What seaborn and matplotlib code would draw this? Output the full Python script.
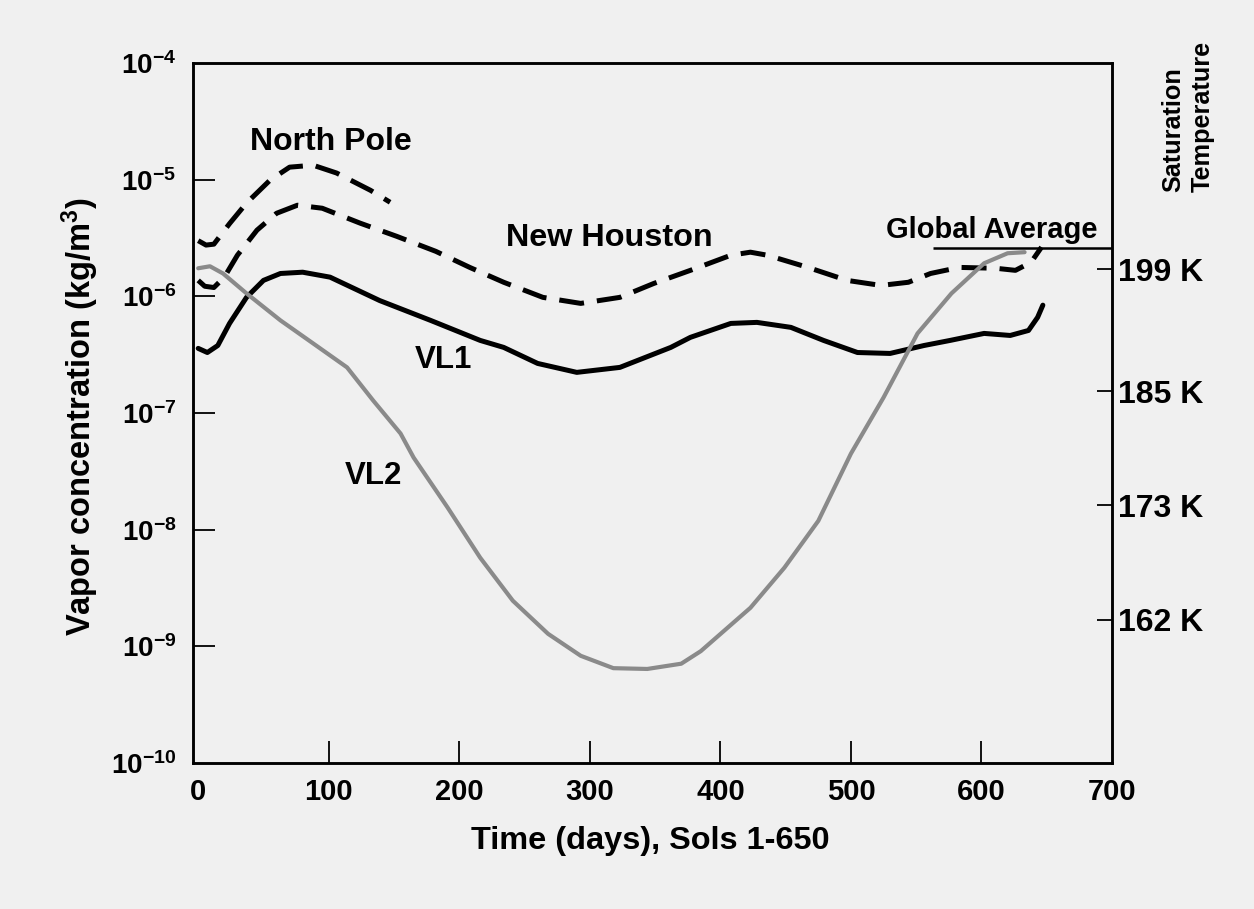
import seaborn as sns
import matplotlib.pyplot as plt
from matplotlib.ticker import NullLocator, FixedLocator, NullFormatter

# ---------------- DATA ----------------
# time in days, vapor concentration in kg/m^3
np_days = [0, 6, 12, 24, 37, 55, 70, 88, 106, 132, 147]
np_conc = [3.0e-6, 2.75e-6, 2.8e-6, 4.2e-6, 6.3e-6, 9.9e-6, 1.28e-5, 1.33e-5, 1.14e-5, 8.1e-6, 6.4e-6]

nh_days = [0, 5, 12, 20, 30, 45, 60, 76, 95, 124, 152, 182, 208, 234, 264, 293, 323,
           349, 377, 408, 423, 436, 467, 497, 523, 544, 561, 583, 611, 626, 638, 646]
nh_conc = [1.37e-6, 1.22e-6, 1.19e-6, 1.46e-6, 2.25e-6, 3.69e-6, 5.15e-6, 6.04e-6, 5.69e-6,
           4.24e-6, 3.27e-6, 2.43e-6, 1.77e-6, 1.32e-6, 9.8e-7, 8.7e-7, 9.8e-7, 1.29e-6,
           1.67e-6, 2.25e-6, 2.39e-6, 2.25e-6, 1.77e-6, 1.37e-6, 1.24e-6, 1.32e-6, 1.57e-6,
           1.77e-6, 1.74e-6, 1.67e-6, 1.96e-6, 2.64e-6]

vl1_days = [0, 7, 15, 24, 37, 50, 63, 80, 101, 139, 178, 216, 234, 260, 290, 323, 362,
            377, 408, 428, 454, 479, 505, 530, 556, 576, 602, 622, 636, 643, 647]
vl1_conc = [3.58e-7, 3.3e-7, 3.79e-7, 5.86e-7, 9.8e-7, 1.37e-6, 1.57e-6, 1.61e-6, 1.46e-6,
            9.2e-7, 6.22e-7, 4.19e-7, 3.65e-7, 2.66e-7, 2.23e-7, 2.46e-7, 3.65e-7, 4.45e-7,
            5.86e-7, 5.98e-7, 5.42e-7, 4.19e-7, 3.3e-7, 3.24e-7, 3.79e-7, 4.19e-7, 4.81e-7,
            4.62e-7, 5.1e-7, 6.61e-7, 8.4e-7]

vl2_days = [0, 9, 19, 37, 63, 88, 114, 134, 155, 165, 191, 216, 241, 268, 293, 318, 344,
            370, 385, 423, 449, 475, 500, 525, 551, 577, 602, 620, 633]
vl2_conc = [1.74e-6, 1.81e-6, 1.57e-6, 1.06e-6, 6.22e-7, 3.95e-7, 2.46e-7, 1.28e-7, 6.67e-8,
            4.15e-8, 1.55e-8, 5.75e-9, 2.46e-9, 1.28e-9, 8.3e-10, 6.5e-10, 6.4e-10, 7.1e-10,
            9.1e-10, 2.14e-9, 4.72e-9, 1.19e-8, 4.49e-8, 1.36e-7, 4.81e-7, 1.06e-6, 1.92e-6,
            2.34e-6, 2.39e-6]

global_avg_days = [563, 700]
global_avg_conc = 2.58e-6

y_ticks = [1e-4, 1e-5, 1e-6, 1e-7, 1e-8, 1e-9, 1e-10]
y_ticklabels = [r"$10^{-4}$", r"$10^{-5}$", r"$10^{-6}$", r"$10^{-7}$",
                r"$10^{-8}$", r"$10^{-9}$", r"$10^{-10}$"]
x_ticks = [0, 100, 200, 300, 400, 500, 600, 700]
temp_ticks = [1.71e-6, 1.53e-7, 1.62e-8, 1.69e-9]
temp_labels = ["199 K", "185 K", "173 K", "162 K"]

# ---------------- STYLE ----------------
sns.set_theme(style="ticks")
paper = "#f0f0f0"
plt.rcParams["font.family"] = ["Liberation Sans", "DejaVu Sans"]
plt.rcParams["font.weight"] = "bold"
plt.rcParams["text.color"] = "black"
plt.rcParams["axes.labelcolor"] = "black"
plt.rcParams["mathtext.fontset"] = "custom"
plt.rcParams["mathtext.rm"] = "Liberation Sans:bold"
plt.rcParams["mathtext.bf"] = "Liberation Sans:bold"
plt.rcParams["mathtext.default"] = "rm"

fig = plt.figure(figsize=(12.54, 9.09), dpi=100, facecolor=paper)
ax = fig.add_axes([0.1539, 0.1606, 0.7329, 0.7701], facecolor=paper)

# ---------------- CURVES ----------------
sns.lineplot(x=np_days, y=np_conc, ax=ax, color="black", lw=3.6,
             linestyle=(0, (5, 2.6)), estimator=None)
sns.lineplot(x=nh_days, y=nh_conc, ax=ax, color="black", lw=3.6,
             linestyle=(0, (5, 2.6)), estimator=None)
sns.lineplot(x=vl1_days, y=vl1_conc, ax=ax, color="black", lw=3.6, estimator=None)
sns.lineplot(x=vl2_days, y=vl2_conc, ax=ax, color="#8a8a8a", lw=3.0, estimator=None)
ax.hlines(global_avg_conc, global_avg_days[0], global_avg_days[1], color="black", lw=1.8)

ax.set_yscale("log")
ax.set_xlim(-4, 700)
ax.set_ylim(1e-10, 1e-4)

# labels on major ticks, visible tick marks only on inner positions (minor)
ax.xaxis.remove_overlapping_locs = False
ax.yaxis.remove_overlapping_locs = False
ax.set_xticks(x_ticks)
ax.xaxis.set_minor_locator(FixedLocator(x_ticks[1:-1]))
ax.xaxis.set_minor_formatter(NullFormatter())
ax.set_yticks(y_ticks)
ax.set_yticklabels(y_ticklabels)
ax.yaxis.set_minor_locator(FixedLocator(y_ticks[1:-1]))
ax.yaxis.set_minor_formatter(NullFormatter())
ax.tick_params(axis="both", which="major", length=0, labelsize=21, colors="black")
ax.tick_params(axis="both", which="minor", direction="in", length=16, width=1.3,
               colors="black")
ax.tick_params(axis="x", which="major", pad=11)
ax.tick_params(axis="y", which="major", pad=12, labelsize=20)
for s in ax.spines.values():
    s.set_linewidth(1.8)
    s.set_color("black")

# right axis: saturation temperature
ax2 = ax.twinx()
ax2.set_yscale("log")
ax2.set_ylim(1e-10, 1e-4)
ax2.set_yticks(temp_ticks)
ax2.set_yticklabels(temp_labels)
ax2.yaxis.set_minor_locator(NullLocator())
ax2.tick_params(axis="y", direction="in", length=11, width=1.3, labelsize=23, pad=4,
                colors="black")
for s in ax2.spines.values():
    s.set_linewidth(1.8)
    s.set_color("black")

# ---------------- LABELS ----------------
ax.set_xlabel("Time (days), Sols 1-650", fontsize=23.4, fontweight="bold")
ax.xaxis.set_label_coords(0.498, -0.09)
ax.set_ylabel("Vapor concentration (kg/m$^3$)", fontsize=23.5, fontweight="bold")
ax.yaxis.set_label_coords(-0.10, 0.495)

txt = dict(fontweight="bold", ha="center", va="center")
ax.text(102, 10 ** -4.678, "North Pole", fontsize=23, **txt)
ax.text(315, 10 ** -5.502, "New Houston", fontsize=23.3, **txt)
ax.text(188, 10 ** -6.549, "VL1", fontsize=22.5, **txt)
ax.text(134, 10 ** -7.536, "VL2", fontsize=22.5, **txt)
ax.text(608, 10 ** -5.433, "Global Average", fontsize=21, **txt)

fig.text(1188 / 1254, 1 - 192 / 909, "Saturation\nTemperature", rotation=90,
         fontsize=18.2, fontweight="bold", ha="center", va="bottom",
         multialignment="left", linespacing=1.3)

fig.savefig("out.png", dpi=100, facecolor=paper)
